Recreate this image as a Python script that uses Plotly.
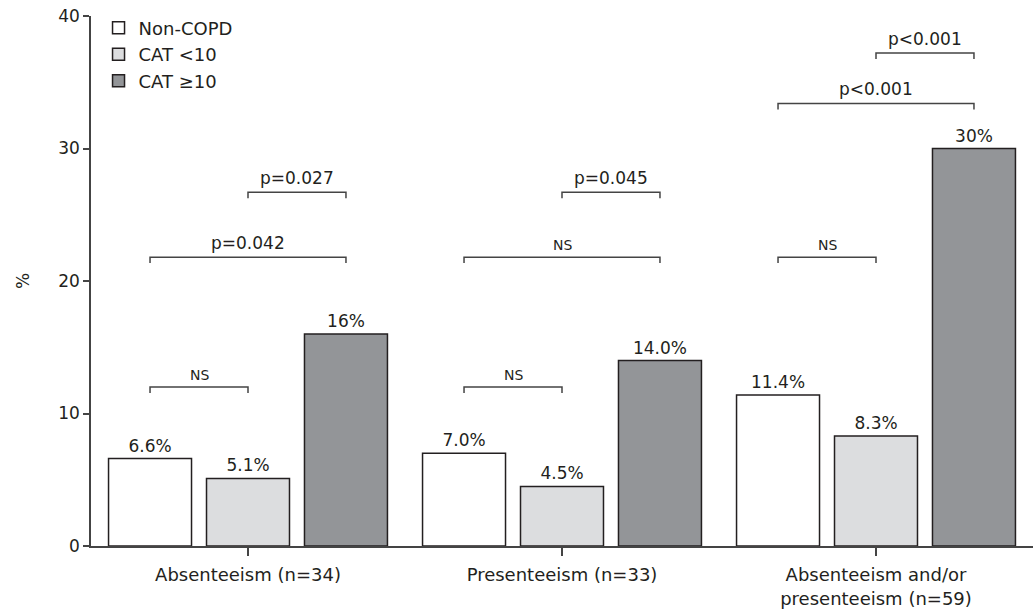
import plotly.graph_objects as go

categories = ["Absenteeism (n=34)", "Presenteeism (n=33)", "Absenteeism and/or<br>presenteeism (n=59)"]
series_names = ["Non-COPD", "CAT <10", "CAT \u226510"]
non_copd = [6.6, 7.0, 11.4]
cat_lt10 = [5.1, 4.5, 8.3]
cat_ge10 = [16, 14.0, 30]
non_copd_labels = ["6.6%", "7.0%", "11.4%"]
cat_lt10_labels = ["5.1%", "4.5%", "8.3%"]
cat_ge10_labels = ["16%", "14.0%", "30%"]
y_ticks = [0, 10, 20, 30, 40]

# brackets: (group index, from series, to series, height, label)
bracket_group = [0, 0, 0, 1, 1, 1, 2, 2, 2]
bracket_from = [0, 0, 1, 0, 0, 1, 0, 0, 1]
bracket_to = [1, 2, 2, 1, 2, 2, 1, 2, 2]
bracket_y = [12.0, 21.8, 26.7, 12.0, 21.8, 26.7, 21.8, 33.4, 37.2]
bracket_text = ["NS", "p=0.042", "p=0.027", "NS", "NS", "p=0.045", "NS", "p<0.001", "p<0.001"]

FONT = "DejaVu Sans"
INK = "#231f20"
AX = "#444444"
colors = ["#ffffff", "#dcdddf", "#939598"]
values = [non_copd, cat_lt10, cat_ge10]
labels = [non_copd_labels, cat_lt10_labels, cat_ge10_labels]

bargap = 0.064
bargroupgap = 0.153
slot = (1 - bargap) / 3

xpos = list(range(len(categories)))

fig = go.Figure()
for name, vals, labs, col in zip(series_names, values, labels, colors):
    fig.add_trace(go.Bar(
        x=xpos, y=vals, name=name, text=labs, textposition="outside",
        textfont=dict(family=FONT, size=17, color=INK),
        marker=dict(color=col, line=dict(color=INK, width=1.5)),
        cliponaxis=False,
    ))

tick_len = 0.45
for g, a, b, yv, t in zip(bracket_group, bracket_from, bracket_to, bracket_y, bracket_text):
    x0 = g + (a - 1) * slot
    x1 = g + (b - 1) * slot
    fig.add_shape(type="path",
                  path=f"M {x0},{yv - tick_len} L {x0},{yv} L {x1},{yv} L {x1},{yv - tick_len}",
                  line=dict(color=AX, width=1.5), xref="x", yref="y")
    fig.add_annotation(x=(x0 + x1) / 2, y=yv, text=t, showarrow=False,
                       yanchor="bottom", yshift=2,
                       font=dict(family=FONT, size=14 if t == "NS" else 17, color=INK))

fig.update_layout(
    width=1035, height=612,
    margin=dict(l=91, r=2, t=16, b=66),
    plot_bgcolor="white", paper_bgcolor="white",
    barmode="group", bargap=bargap, bargroupgap=bargroupgap,
    showlegend=True,
    legend=dict(x=0.008, y=1.012, xanchor="left", yanchor="top",
                font=dict(family=FONT, size=18, color=INK),
                bgcolor="rgba(0,0,0,0)", tracegroupgap=0, itemwidth=30),
    font=dict(family=FONT, color=INK),
)
fig.update_xaxes(range=[-0.5, 2.5], tickvals=xpos, ticktext=categories,
                 showline=True, linecolor=AX, linewidth=1.5,
                 ticks="outside", ticklen=8, tickcolor=AX, tickwidth=1.5,
                 ticklabelstandoff=4,
                 showgrid=False, zeroline=False,
                 tickfont=dict(family=FONT, size=18, color=INK))
fig.update_yaxes(range=[0, 40], tickvals=y_ticks,
                 showline=True, linecolor=AX, linewidth=1.5,
                 ticks="outside", ticklen=6, tickcolor=AX, tickwidth=1.5,
                 showgrid=False, zeroline=False,
                 title=dict(text="%", font=dict(family=FONT, size=17, color=INK), standoff=24),
                 tickfont=dict(family=FONT, size=17, color=INK))

fig.write_html("out.html", config={"displayModeBar": False},
               post_script="document.body.style.margin='0px';")
